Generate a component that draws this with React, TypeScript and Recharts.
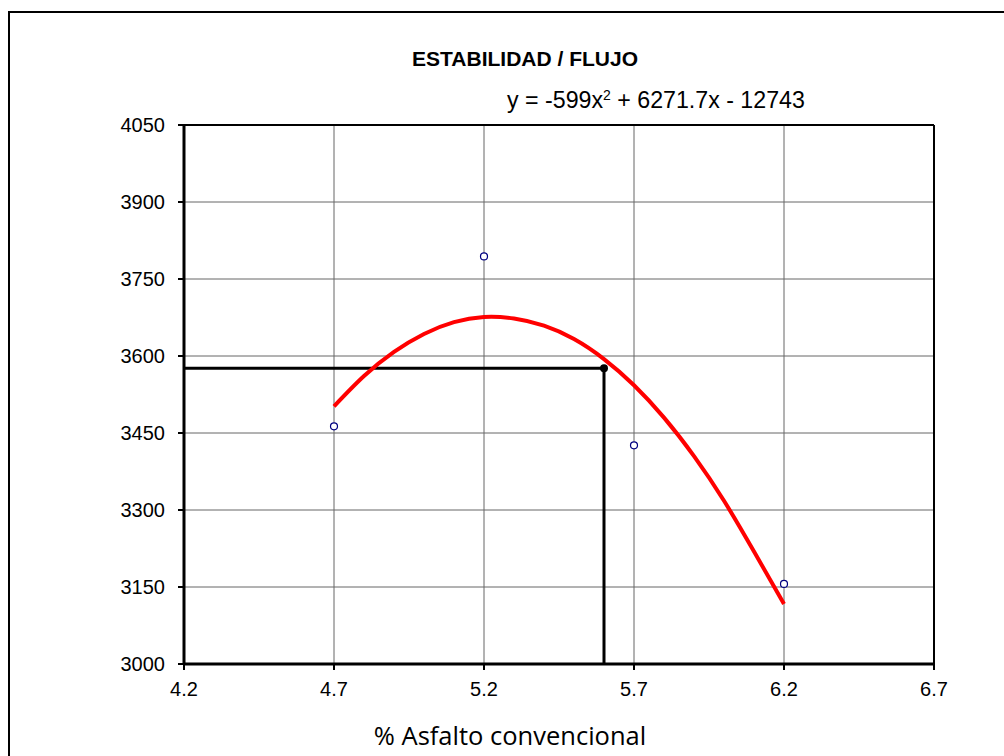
import React from "react";
import {
  ComposedChart,
  Line,
  Scatter,
  XAxis,
  YAxis,
  CartesianGrid,
  ReferenceLine,
} from "recharts";

// ensayos Marshall: % asfalto vs estabilidad
const asphaltPct = [4.7, 5.2, 5.7, 6.2];
const stability = [3463, 3794, 3426, 3156];

// curva de ajuste
const curveX = [4.7, 4.8, 4.9, 5.0, 5.1, 5.2, 5.3, 5.4, 5.5, 5.6, 5.7, 5.8, 5.9, 6.0, 6.1, 6.2];
const curveY = [3502, 3561, 3608, 3643, 3666, 3676, 3673, 3659, 3633, 3594, 3543, 3480, 3405, 3318, 3219, 3117];

// lectura de diseno
const designX = [4.2, 5.6, 5.6];
const designY = [3576, 3576, 3000];

const xTicks = [4.2, 4.7, 5.2, 5.7, 6.2, 6.7];
const yTicks = [3000, 3150, 3300, 3450, 3600, 3750, 3900, 4050];

const points = asphaltPct.map((x, i) => ({ x, y: stability[i] }));
const curve = curveX.map((x, i) => ({ x, y: curveY[i] }));
const design = designX.map((x, i) => ({ x, y: designY[i] }));
const designPoint = [design[1]];

const font = "Liberation Sans, Arial, sans-serif";
const tickStyle = { fill: "#000", fontSize: 20, fontFamily: font };

export default function App() {
  return (
    <div style={{ position: "absolute", left: 0, top: 0, width: 1004, height: 756, overflow: "hidden", background: "#fff" }}>
      <div
        style={{
          position: "absolute",
          left: 8,
          top: 11,
          width: 1020,
          height: 780,
          border: "2px solid #000",
        }}
      />
      <div
        style={{
          position: "absolute",
          left: 300,
          top: 47,
          width: 450,
          textAlign: "center",
          fontFamily: font,
          fontWeight: "bold",
          fontSize: 21,
        }}
      >
        ESTABILIDAD / FLUJO
      </div>
      <div
        style={{
          position: "absolute",
          left: 507,
          top: 87,
          fontFamily: font,
          fontSize: 23.2,
          whiteSpace: "nowrap",
        }}
      >
        y = -599x<sup style={{ fontSize: 14, verticalAlign: "top", lineHeight: "14px", position: "relative", top: 1 }}>2</sup> + 6271.7x - 12743
      </div>
      <ComposedChart
        width={1004}
        height={756}
        margin={{ top: 125, right: 70, bottom: 62, left: 0 }}
        style={{ position: "absolute", left: 0, top: 0 }}
      >
        <CartesianGrid stroke="#666" strokeWidth={1} />
        <XAxis
          dataKey="x"
          type="number"
          domain={[4.2, 6.7]}
          ticks={xTicks}
          tickFormatter={(v) => v.toFixed(1)}
          tick={tickStyle}
          tickSize={6}
          tickMargin={12}
          axisLine={{ stroke: "#000", strokeWidth: 3 }}
          tickLine={{ stroke: "#000", strokeWidth: 2 }}
          allowDuplicatedCategory={false}
        />
        <YAxis
          dataKey="y"
          type="number"
          domain={[3000, 4050]}
          ticks={yTicks}
          tick={tickStyle}
          width={184}
          tickSize={6}
          tickMargin={13}
          axisLine={{ stroke: "#000", strokeWidth: 3 }}
          tickLine={{ stroke: "#000", strokeWidth: 2 }}
        />
        <ReferenceLine y={4050} stroke="#000" strokeWidth={2} />
        <ReferenceLine x={6.7} stroke="#000" strokeWidth={2} />
        <Line
          data={design}
          dataKey="y"
          type="linear"
          stroke="#000"
          strokeWidth={3}
          dot={false}
          isAnimationActive={false}
        />
        <Line
          data={curve}
          dataKey="y"
          type="natural"
          stroke="#ff0000"
          strokeWidth={4}
          dot={false}
          isAnimationActive={false}
        />
        <Scatter
          data={designPoint}
          dataKey="y"
          fill="#000"
          shape={(p: any) => <circle cx={p.cx} cy={p.cy} r={4} fill="#000" />}
          isAnimationActive={false}
        />
        <Scatter
          data={points}
          dataKey="y"
          shape={(p: any) => <circle cx={p.cx} cy={p.cy} r={3.5} fill="#fff" stroke="#000080" strokeWidth={1.2} />}
          isAnimationActive={false}
        />
      </ComposedChart>
      <div
        style={{
          position: "absolute",
          left: 0,
          top: 718,
          width: 1020,
          textAlign: "center",
          fontFamily: "Open Sans, Noto Sans, sans-serif",
          fontSize: 25.5,
        }}
      >
        % Asfalto convencional
      </div>
    </div>
  );
}
